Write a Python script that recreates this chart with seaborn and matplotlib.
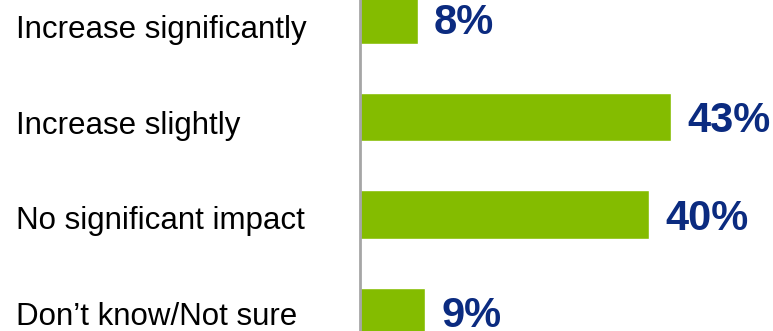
import matplotlib
matplotlib.use("Agg")
import matplotlib.pyplot as plt
import matplotlib.transforms as mtransforms
import seaborn as sns
import pandas as pd

categories = ["Increase significantly", "Increase slightly",
              "No significant impact", "Don\u2019t know/Not sure"]
values = [8, 43, 40, 9]
value_labels = ["8%", "43%", "40%", "9%"]

BAR_GREEN = "#84BC00"
NAVY = "#0B2B80"
AXIS_GRAY = "#A6A6A6"

sns.set_theme(style="white")
plt.rcParams["font.family"] = ["Liberation Sans", "DejaVu Sans"]

df = pd.DataFrame({"category": categories, "value": values})

W, H, DPI = 773, 331, 100
fig = plt.figure(figsize=(W / DPI, H / DPI), dpi=DPI)
x0 = 360 / W
ax = fig.add_axes([x0, 0, 1 - x0, 1])

sns.barplot(data=df, y="category", x="value", order=categories,
            color=BAR_GREEN, saturation=1, width=0.5, ax=ax, orient="h")

px_per_unit = 7.23
row_px = 97.5
top_px = 19.5
ax.set_xlim(0, (W - 360) / px_per_unit)
ax.set_ylim((H - top_px) / row_px, -top_px / row_px)

for spine in ["top", "right", "bottom"]:
    ax.spines[spine].set_visible(False)
ax.spines["left"].set_color(AXIS_GRAY)
ax.spines["left"].set_linewidth(2)
ax.set_xticks([])
ax.set_yticks([])
ax.set_xlabel("")
ax.set_ylabel("")

# Category labels in a left-hand column, slightly tighter row pitch than the bars
label_first_baseline = 38
label_pitch = 95.7
for i, cat in enumerate(categories):
    y_fig = 1 - (label_first_baseline + i * label_pitch) / H
    fig.text(16 / W, y_fig, cat, ha="left", va="baseline",
             fontsize=22.5, color="#000000")

# Value labels beyond each bar
for i, (v, txt) in enumerate(zip(values, value_labels)):
    ax.annotate(txt, xy=(v, i), xytext=(16 * 72 / DPI, -15 * 72 / DPI),
                textcoords="offset points", ha="left", va="baseline",
                fontsize=30, fontweight="bold", color=NAVY,
                annotation_clip=False)

fig.savefig("out.png", dpi=DPI)
